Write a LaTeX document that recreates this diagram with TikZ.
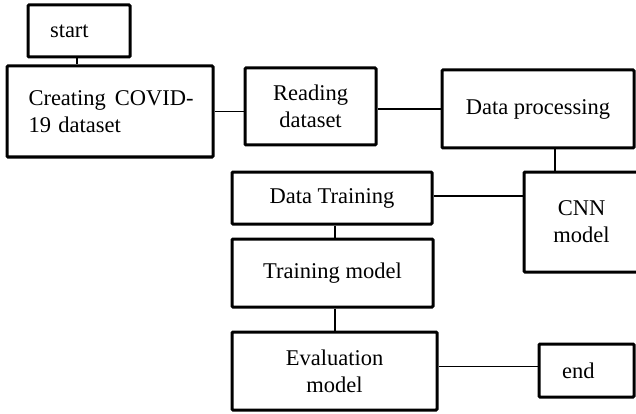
\documentclass[tikz,border=0pt]{standalone}
\usepackage{fontspec}
\setmainfont{Liberation Serif}
\usetikzlibrary{positioning}

\begin{document}
\begin{tikzpicture}[
  x=1pt, y=-1pt,
  box/.style={draw, line width=3pt, rounded corners=1pt, inner sep=0pt,
    align=center, font=\fontsize{22.5}{27}\selectfont},
  leftbox/.style={box, align=left},
  link/.style={draw, line width=1.3pt}
]
\path[use as bounding box, clip] (0,0) rectangle (636,414);
\node[leftbox, inner xsep=22pt, text width=58pt, minimum height=52pt] (start) at (79,31) {start};
\node[leftbox, inner xsep=21.5pt, text width=163pt, minimum height=91pt] (create) at (110,111.5) {\mbox{Creating\hspace{9pt}COVID-}\\19 dataset};
\node[box, minimum width=131pt, minimum height=77pt] (read) at (310.5,106.5) {Reading\\dataset};
\node[box, minimum width=192pt, minimum height=78pt] (proc) at (538,109) {Data processing};
\node[box, minimum width=115pt, minimum height=100pt] (cnn) at (581.5,222) {CNN\\model};
\node[box, minimum width=200pt, minimum height=52pt] (train) at (332,198) {Data Training};
\node[box, minimum width=201pt, minimum height=68pt] (tmodel) at (332.5,273) {Training model};
\node[box, minimum width=205pt, minimum height=78pt] (eval) at (334.5,371) {Evaluation\\model};
\node[leftbox, inner xsep=23pt, text width=49pt, minimum height=53pt] (end) at (586.5,370.5) {end};

\draw[link] ([xshift=-2pt]start.south) -- ([xshift=-2pt]start.south |- create.north);
\draw[link] (create.east) -- (create.east -| read.west);
\draw[link] (proc.west) -- (proc.west -| read.east);
\draw[link] ([xshift=17pt]proc.south) -- ([xshift=17pt]proc.south |- cnn.north);
\draw[link] ([yshift=2pt]train.east) -- ([yshift=2pt]train.east -| cnn.west);
\draw[link] ([xshift=3pt]train.south) -- ([xshift=3pt]train.south |- tmodel.north);
\draw[link] ([xshift=2.5pt]tmodel.south) -- ([xshift=2.5pt]tmodel.south |- eval.north);
\draw[link] ([yshift=4pt]end.west) -- ([yshift=4pt]end.west -| eval.east);
\end{tikzpicture}
\end{document}
